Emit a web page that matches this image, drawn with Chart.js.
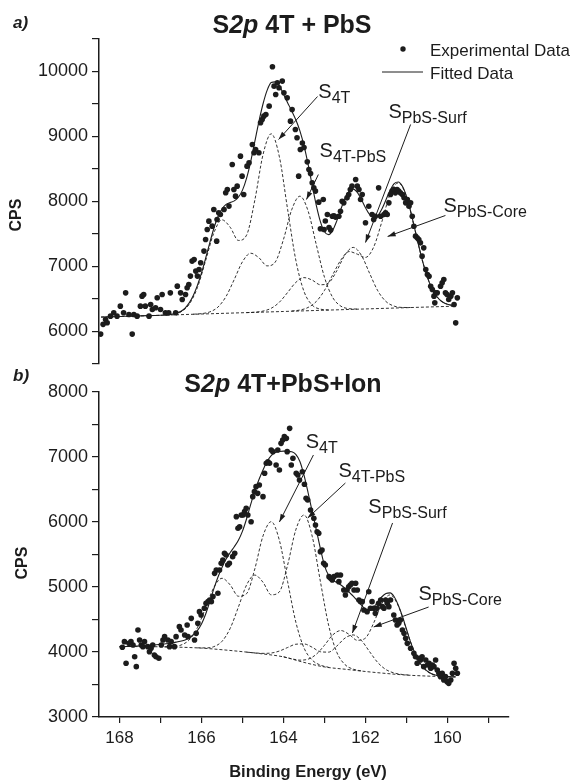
<!DOCTYPE html>
<html>
<head>
<meta charset="utf-8">
<script src="https://cdn.jsdelivr.net/npm/chart.js@4.4.1/dist/chart.umd.min.js"></script>
<style>
  body { margin: 0; background: #fff; }
  #wrap { position: relative; width: 586px; height: 780px; }
  #wrap canvas { position: absolute; left: 0; top: 0; }
</style>
</head>
<body>
<div id="wrap">
  <canvas id="panelA" width="586" height="780"></canvas>
  <canvas id="panelB" width="586" height="780"></canvas>
</div>
<script>
// ---- axis ticks ----
const xTicks = [159, 160, 161, 162, 163, 164, 165, 166, 167, 168];
const yTicksA = [5500, 6000, 6500, 7000, 7500, 8000, 8500, 9000, 9500, 10000, 10500];
const yTicksB = [3000, 3500, 4000, 4500, 5000, 5500, 6000, 6500, 7000, 7500, 8000];

// ---- panel a) S2p 4T + PbS  [binding energy eV, CPS] ----
const expA = [
  [168.46, 5960], [168.40, 6110], [168.34, 6185], [168.30, 6134], [168.22, 6236], [168.14, 6288], [168.06, 6236],
  [167.98, 6390], [167.90, 6288], [167.85, 6595], [167.77, 6262], [167.69, 5960], [167.65, 6262], [167.57, 6236],
  [167.49, 6390], [167.45, 6544], [167.41, 6570], [167.37, 6390], [167.28, 6236], [167.24, 6416], [167.20, 6339],
  [167.12, 6365], [167.08, 6519], [167.00, 6339], [166.96, 6570], [166.88, 6288], [166.80, 6288], [166.76, 6595],
  [166.63, 6288], [166.59, 6698], [166.51, 6595], [166.47, 6493], [166.39, 6570], [166.35, 6672], [166.31, 6723],
  [166.27, 6852], [166.23, 7083], [166.18, 7108], [166.14, 6929], [166.10, 6852], [166.06, 6955], [166.02, 7057],
  [165.94, 7237], [165.90, 7416], [165.86, 7569], [165.82, 7698], [165.74, 7621], [165.70, 7877], [165.63, 7390],
  [165.62, 7723], [165.58, 7826], [165.54, 7800], [165.45, 7877], [165.41, 8134], [165.37, 8185], [165.33, 7929],
  [165.25, 8570], [165.21, 8185], [165.17, 8082], [165.13, 8236], [165.05, 8698], [165.01, 8390], [164.97, 8108],
  [164.89, 8544], [164.84, 8595], [164.76, 8877], [164.72, 8749], [164.68, 8800], [164.60, 8749], [164.56, 9211],
  [164.52, 9262], [164.48, 9313], [164.43, 9339], [164.35, 9467], [164.27, 10072], [164.23, 9775], [164.19, 9647],
  [164.15, 9826], [164.11, 9749], [164.03, 9852], [163.99, 9672], [163.91, 9595], [163.83, 9236], [163.79, 9416],
  [163.71, 9108], [163.67, 8980], [163.63, 8390], [163.59, 8801], [163.54, 8900], [163.50, 8830], [163.42, 8610],
  [163.38, 8493], [163.34, 8430], [163.30, 8288], [163.26, 8210], [163.22, 8160], [163.14, 7990], [163.10, 7580],
  [163.03, 8031], [163.01, 7569], [162.98, 7700], [162.93, 7800], [162.89, 7600], [162.85, 7560], [162.81, 7774],
  [162.77, 7780], [162.73, 7760], [162.65, 7774], [162.61, 7851], [162.57, 8005], [162.53, 7979], [162.45, 8056],
  [162.41, 8108], [162.37, 8185], [162.33, 8236], [162.24, 8338], [162.20, 8236], [162.16, 8185], [162.12, 8031],
  [162.08, 8108], [162.00, 7672], [161.92, 7928], [161.84, 7800], [161.80, 7723], [161.76, 7774], [161.68, 8210],
  [161.63, 7774], [161.55, 7800], [161.51, 7826], [161.47, 7800], [161.43, 7979], [161.39, 8108], [161.35, 8159],
  [161.31, 8185], [161.27, 8133], [161.23, 8185], [161.19, 8159], [161.15, 8133], [161.10, 8108], [161.06, 8056],
  [161.02, 7979], [160.98, 8031], [160.94, 7928], [160.90, 7979], [160.86, 7774], [160.82, 7620], [160.78, 7467],
  [160.74, 7441], [160.70, 7415], [160.66, 7364], [160.62, 7159], [160.58, 7287], [160.53, 6954], [160.49, 6877],
  [160.45, 6851], [160.41, 6697], [160.37, 6646], [160.33, 6544], [160.31, 6441], [160.29, 6595], [160.25, 6595],
  [160.17, 6697], [160.13, 6749], [160.09, 6800], [160.05, 6595], [160.01, 6569], [159.97, 6492], [159.92, 6544],
  [159.88, 6595], [159.84, 6415], [159.80, 6133], [159.76, 6518]
];
const fitA = [
  [168.45, 6222], [168.0, 6231], [167.5, 6241], [167.0, 6250], [166.9, 6255], [166.8, 6260], [166.7, 6270],
  [166.6, 6285], [166.5, 6312], [166.4, 6360], [166.3, 6440], [166.2, 6555], [166.1, 6710], [166.0, 6900],
  [165.9, 7125], [165.8, 7360], [165.7, 7585], [165.6, 7765], [165.5, 7885], [165.4, 7955], [165.3, 7985],
  [165.2, 8010], [165.1, 8065], [165.0, 8175], [164.9, 8360], [164.8, 8615], [164.7, 8920], [164.6, 9230],
  [164.5, 9500], [164.4, 9710], [164.3, 9830], [164.2, 9840], [164.1, 9780], [164.0, 9650], [163.9, 9520],
  [163.8, 9393], [163.7, 9257], [163.6, 9087], [163.5, 8858], [163.4, 8571], [163.3, 8250], [163.2, 7942],
  [163.1, 7691], [163.0, 7534], [162.9, 7490], [162.8, 7556], [162.7, 7702], [162.6, 7882], [162.5, 8049],
  [162.4, 8159], [162.3, 8190], [162.2, 8140], [162.1, 8030], [162.0, 7905], [161.9, 7800], [161.8, 7755],
  [161.7, 7785], [161.6, 7885], [161.5, 8027], [161.4, 8172], [161.3, 8275], [161.2, 8300], [161.1, 8234],
  [161.0, 8078], [160.9, 7850], [160.8, 7583], [160.7, 7312], [160.6, 7062], [160.5, 6852], [160.4, 6689],
  [160.3, 6572], [160.2, 6494], [160.1, 6446], [160.0, 6418], [159.9, 6404], [159.8, 6397]
];
const baseA = [[168.45, 6221], [166.0, 6269], [164.0, 6308], [162.0, 6347], [159.8, 6390]];
const s4tA = [
  [166.9, 6253], [166.7, 6265], [166.5, 6303], [166.3, 6418], [166.1, 6675], [165.9, 7088], [165.7, 7515],
  [165.5, 7718], [165.3, 7604], [165.1, 7401], [164.9, 7483], [164.7, 8019], [164.5, 8720], [164.3, 9042],
  [164.1, 8686], [163.9, 7880], [163.7, 7099], [163.5, 6616], [163.3, 6406], [163.1, 6344], [162.9, 6332]
];
const s4tPbsA = [
  [166.2, 6266], [166.0, 6275], [165.8, 6301], [165.6, 6375], [165.4, 6540], [165.2, 6802], [165.0, 7074],
  [164.8, 7204], [164.6, 7135], [164.4, 7010], [164.2, 7069], [164.0, 7418], [163.8, 7873], [163.6, 8082],
  [163.4, 7854], [163.2, 7335], [163.0, 6833], [162.8, 6523], [162.6, 6390], [162.4, 6351], [162.2, 6345]
];
const surfA = [
  [164.9, 6291], [164.7, 6297], [164.5, 6314], [164.3, 6357], [164.1, 6451], [163.9, 6600], [163.7, 6755],
  [163.5, 6829], [163.3, 6791], [163.1, 6719], [162.9, 6747], [162.7, 6934], [162.5, 7180], [162.3, 7294],
  [162.1, 7172], [161.9, 6895], [161.7, 6626], [161.5, 6461], [161.3, 6390], [161.1, 6370], [160.9, 6369]
];
const coreA = [
  [163.8, 6315], [163.6, 6330], [163.4, 6370], [163.2, 6462], [163.0, 6633], [162.8, 6872], [162.6, 7101],
  [162.4, 7230], [162.2, 7190], [162.0, 7140], [161.8, 7300], [161.6, 7690], [161.4, 8115], [161.2, 8286],
  [161.0, 8075], [160.8, 7583], [160.6, 7062], [160.4, 6689], [160.2, 6494], [160.0, 6418], [159.8, 6397]
];

// ---- panel b) S2p 4T+PbS+Ion ----
const expB = [
  [167.93, 4072], [167.88, 4159], [167.84, 3826], [167.77, 4133], [167.72, 4159], [167.67, 4108], [167.63, 3928],
  [167.59, 3775], [167.55, 4339], [167.51, 4185], [167.47, 4108], [167.43, 4082], [167.39, 4159], [167.31, 4082],
  [167.27, 4005], [167.23, 4057], [167.19, 4108], [167.15, 3954], [167.11, 3928], [167.04, 3903], [166.98, 4108],
  [166.94, 4185], [166.90, 4236], [166.82, 4185], [166.78, 4082], [166.74, 4159], [166.66, 4082], [166.62, 4236],
  [166.54, 4390], [166.50, 4339], [166.41, 4262], [166.35, 4416], [166.33, 4236], [166.25, 4518], [166.17, 4185],
  [166.13, 4287], [166.09, 4441], [166.05, 4621], [166.01, 4570], [165.93, 4672], [165.89, 4749], [165.84, 4775],
  [165.80, 4800], [165.76, 4775], [165.72, 4852], [165.68, 5210], [165.64, 5262], [165.60, 4903], [165.56, 5262],
  [165.52, 5364], [165.48, 5416], [165.44, 5518], [165.40, 5492], [165.36, 5339], [165.32, 5364], [165.24, 5467],
  [165.19, 5518], [165.15, 6082], [165.11, 5903], [165.07, 5928], [165.03, 6108], [164.99, 6108], [164.95, 6159],
  [164.91, 6210], [164.87, 6108], [164.79, 6005], [164.75, 6390], [164.71, 6467], [164.67, 6544], [164.63, 6441],
  [164.59, 6569], [164.50, 6390], [164.46, 6749], [164.42, 6903], [164.38, 6928], [164.34, 6903], [164.30, 7108],
  [164.26, 7082], [164.18, 6877], [164.14, 7108], [164.10, 6800], [164.06, 7210], [164.02, 7262], [163.98, 7313],
  [163.93, 7287], [163.91, 7082], [163.85, 7441], [163.81, 6877], [163.77, 6980], [163.69, 6749], [163.65, 6723],
  [163.61, 6646], [163.54, 6774], [163.49, 6580], [163.45, 6364], [163.41, 6339], [163.34, 6185], [163.26, 6057],
  [163.22, 5954], [163.18, 5851], [163.14, 5826], [163.10, 5544], [163.06, 5570], [163.02, 5364], [162.98, 5339],
  [162.89, 5159], [162.85, 5133], [162.81, 5108], [162.77, 5159], [162.69, 5185], [162.65, 5082], [162.61, 5185],
  [162.53, 4954], [162.49, 4877], [162.45, 4954], [162.41, 5005], [162.37, 5031], [162.33, 5057], [162.28, 4954],
  [162.24, 5057], [162.20, 4954], [162.16, 4800], [162.12, 4775], [162.08, 4775], [162.04, 4646], [161.96, 4621],
  [161.92, 4928], [161.88, 4672], [161.84, 4775], [161.80, 4672], [161.76, 4595], [161.72, 4672], [161.68, 4749],
  [161.63, 4800], [161.59, 4698], [161.55, 4672], [161.51, 4800], [161.47, 4749], [161.43, 4698], [161.39, 4800],
  [161.31, 4570], [161.27, 4493], [161.23, 4416], [161.19, 4441], [161.15, 4493], [161.10, 4339], [161.06, 4287],
  [161.02, 4210], [160.98, 4133], [160.90, 4057], [160.82, 3980], [160.78, 3928], [160.74, 3826], [160.70, 3903],
  [160.66, 3877], [160.62, 3928], [160.58, 3775], [160.53, 3877], [160.49, 3800], [160.45, 3826], [160.41, 3749],
  [160.37, 3800], [160.33, 3775], [160.29, 3877], [160.25, 3723], [160.21, 3672], [160.17, 3621], [160.13, 3672],
  [160.09, 3570], [160.05, 3621], [160.01, 3544], [159.97, 3518], [159.92, 3570], [159.88, 3672], [159.84, 3826],
  [159.80, 3749], [159.76, 3672]
];
const fitB = [
  [168.0, 4082], [167.6, 4090], [167.2, 4105], [166.8, 4130], [166.6, 4155], [166.4, 4185], [166.3, 4215],
  [166.2, 4265], [166.1, 4330], [166.0, 4430], [165.9, 4580], [165.8, 4770], [165.7, 4970], [165.6, 5150],
  [165.5, 5300], [165.4, 5430], [165.3, 5530], [165.2, 5620], [165.1, 5720], [165.0, 5860], [164.9, 6050],
  [164.8, 6270], [164.7, 6480], [164.6, 6650], [164.5, 6800], [164.4, 6930], [164.3, 7020], [164.2, 7070],
  [164.1, 7085], [164.0, 7090], [163.9, 7088], [163.8, 7080], [163.7, 7040], [163.6, 6930], [163.5, 6720],
  [163.4, 6450], [163.3, 6160], [163.2, 5880], [163.1, 5590], [163.0, 5330], [162.9, 5180], [162.8, 5110],
  [162.7, 5070], [162.6, 5030], [162.5, 4980], [162.4, 4920], [162.3, 4860], [162.2, 4790], [162.1, 4720],
  [162.0, 4660], [161.9, 4650], [161.8, 4690], [161.7, 4770], [161.6, 4850], [161.5, 4900], [161.4, 4910],
  [161.3, 4850], [161.2, 4720], [161.1, 4550], [161.0, 4350], [160.9, 4150], [160.8, 3990], [160.7, 3860],
  [160.6, 3770], [160.5, 3710], [160.4, 3670], [160.3, 3645], [160.2, 3632], [160.0, 3621], [159.8, 3617]
];
const baseB = [
  [168.0, 4085], [167.0, 4080], [166.5, 4073], [166.0, 4060], [165.5, 4035], [165.0, 4005], [164.5, 3970],
  [164.0, 3925], [163.5, 3840], [163.0, 3770], [162.5, 3735], [162.0, 3700], [161.5, 3670], [161.0, 3645],
  [160.5, 3630], [160.0, 3620], [159.8, 3618]
];
const s4tB = [
  [166.9, 4080], [166.7, 4083], [166.5, 4107], [166.3, 4186], [166.1, 4375], [165.9, 4679], [165.7, 4992],
  [165.5, 5134], [165.3, 5032], [165.1, 4858], [164.9, 4898], [164.7, 5278], [164.5, 5785], [164.3, 6005],
  [164.1, 5717], [163.9, 5084], [163.7, 4462], [163.5, 4063], [163.3, 3876], [163.1, 3798], [162.9, 3765]
];
const s4tPbsB = [
  [166.1, 4064], [165.9, 4063], [165.7, 4082], [165.5, 4164], [165.3, 4364], [165.1, 4692], [164.9, 5032],
  [164.7, 5184], [164.5, 5073], [164.3, 4880], [164.1, 4926], [163.9, 5337], [163.7, 5879], [163.5, 6108],
  [163.3, 5781], [163.1, 5084], [162.9, 4413], [162.7, 3995], [162.5, 3806], [162.3, 3736], [162.1, 3709]
];
const surfB = [
  [164.9, 3998], [164.7, 3986], [164.5, 3979], [164.3, 3984], [164.1, 4015], [163.9, 4069], [163.7, 4119],
  [163.5, 4124], [163.3, 4073], [163.1, 4004], [162.9, 3998], [162.7, 4091], [162.5, 4214], [162.3, 4263],
  [162.1, 4177], [161.9, 4005], [161.7, 3837], [161.5, 3729], [161.3, 3677], [161.1, 3654], [160.9, 3643]
];
const coreB = [
  [164.0, 3926], [163.8, 3895], [163.6, 3875], [163.4, 3889], [163.2, 3965], [163.0, 4104], [162.8, 4262],
  [162.6, 4330], [162.4, 4271], [162.2, 4180], [162.0, 4215], [161.8, 4447], [161.6, 4748], [161.4, 4879],
  [161.2, 4710], [161.0, 4341], [160.8, 3987], [160.6, 3765], [160.4, 3666], [160.2, 3632], [160.0, 3621]
];

// ---- drawing ----
const INK = '#1c1c1c';
const FONT = "'Liberation Sans', Arial, Helvetica, sans-serif";
const pts = arr => arr.map(([x, y]) => ({ x, y }));

function richText(ctx, parts, cx, y) {
  let w = 0;
  parts.forEach(([t, f]) => { ctx.font = f; w += ctx.measureText(t).width; });
  let x = cx - w / 2;
  ctx.textAlign = 'left';
  ctx.textBaseline = 'alphabetic';
  parts.forEach(([t, f]) => { ctx.font = f; ctx.fillText(t, x, y); x += ctx.measureText(t).width; });
}

function arrow(ctx, x1, y1, x2, y2) {
  ctx.beginPath();
  ctx.moveTo(x1, y1);
  ctx.lineTo(x2, y2);
  ctx.stroke();
  const a = Math.atan2(y2 - y1, x2 - x1), L = 8, W = 2.6;
  const bx = x2 - L * Math.cos(a), by = y2 - L * Math.sin(a);
  ctx.beginPath();
  ctx.moveTo(x2, y2);
  ctx.lineTo(bx + W * Math.sin(a), by - W * Math.cos(a));
  ctx.lineTo(bx - W * Math.sin(a), by + W * Math.cos(a));
  ctx.closePath();
  ctx.fill();
}

function decor(cfg) {
  return {
    id: 'decor',
    afterDraw(chart) {
      const { ctx } = chart;
      const sx = chart.scales.x, sy = chart.scales.y;
      ctx.save();
      ctx.fillStyle = INK;
      ctx.strokeStyle = INK;
      ctx.lineWidth = 1;

      ctx.font = `italic bold 17px ${FONT}`;
      ctx.textAlign = 'left';
      ctx.textBaseline = 'alphabetic';
      ctx.fillText(cfg.letter, 13, cfg.letterY);

      richText(ctx, cfg.title, cfg.titleX, cfg.titleY);

      ctx.save();
      ctx.translate(cfg.cpsX, cfg.cpsY);
      ctx.rotate(-Math.PI / 2);
      ctx.font = `bold 16px ${FONT}`;
      ctx.textAlign = 'center';
      ctx.textBaseline = 'middle';
      ctx.fillText('CPS', 0, 0);
      ctx.restore();

      cfg.notes.forEach(n => {
        const lx = sx.getPixelForValue(n.at[0]), ly = sy.getPixelForValue(n.at[1]);
        ctx.font = `20px ${FONT}`;
        ctx.textAlign = 'left';
        ctx.textBaseline = 'alphabetic';
        ctx.fillText('S', lx, ly);
        const w = ctx.measureText('S').width;
        ctx.font = `16px ${FONT}`;
        ctx.fillText(n.sub, lx + w, ly + 5);
        arrow(ctx, sx.getPixelForValue(n.from[0]), sy.getPixelForValue(n.from[1]),
                   sx.getPixelForValue(n.to[0]), sy.getPixelForValue(n.to[1]));
      });

      if (cfg.legend) {
        ctx.beginPath();
        ctx.arc(403, 49, 2.7, 0, Math.PI * 2);
        ctx.fill();
        ctx.beginPath();
        ctx.moveTo(382, 72);
        ctx.lineTo(423, 72);
        ctx.stroke();
        ctx.font = `17px ${FONT}`;
        ctx.textAlign = 'left';
        ctx.fillText('Experimental Data', 430, 56);
        ctx.fillText('Fitted Data', 430, 79);
      }

      if (cfg.xTitle) {
        ctx.font = `bold 16.5px ${FONT}`;
        ctx.textAlign = 'center';
        ctx.fillText('Binding Energy (eV)', 308, 777);
      }
      ctx.restore();
    }
  };
}

function curve(data, dashed) {
  return {
    data: pts(data),
    showLine: true,
    borderColor: INK,
    borderWidth: dashed ? 0.9 : 1.1,
    borderDash: dashed ? [3, 2] : [],
    pointRadius: 0,
    cubicInterpolationMode: 'monotone'
  };
}

function panel(id, p) {
  return new Chart(document.getElementById(id), {
    type: 'scatter',
    data: {
      datasets: [
        { data: pts(p.exp), pointRadius: 2.8, pointBackgroundColor: INK, pointBorderWidth: 0 },
        curve(p.fit, false),
        curve(p.base, true),
        ...p.comps.map(c => curve(c, true))
      ]
    },
    options: {
      responsive: false,
      animation: false,
      events: [],
      layout: { padding: p.padding },
      plugins: { legend: { display: false }, tooltip: { enabled: false } },
      scales: {
        x: {
          type: 'linear',
          reverse: true,
          min: 158.5,
          max: 168.5,
          display: p.showX,
          afterBuildTicks: s => { s.ticks = xTicks.map(v => ({ value: v })); },
          afterFit: s => { s.height = p.showX ? 63 : 0; },
          grid: { display: true, drawOnChartArea: false, tickLength: 6, color: INK, lineWidth: 1.2 },
          border: { display: true, color: INK, width: 1.5 },
          ticks: {
            color: INK, font: { family: FONT, size: 17 }, padding: 5,
            autoSkip: false, maxRotation: 0,
            callback: v => (v % 2 === 0 ? String(v) : '')
          }
        },
        y: {
          type: 'linear',
          min: p.yTicks[0],
          max: p.yTicks[p.yTicks.length - 1],
          afterBuildTicks: s => { s.ticks = p.yTicks.map(v => ({ value: v })); },
          afterFit: s => { s.width = 99; },
          grid: { display: true, drawOnChartArea: false, tickLength: 7, color: INK, lineWidth: 1.2 },
          border: { display: true, color: INK, width: 1.5 },
          ticks: {
            color: INK, font: { family: FONT, size: 18 }, padding: 4, autoSkip: false,
            callback: v => (p.labelled.includes(v) ? String(v) : '')
          }
        }
      }
    },
    plugins: [decor(p.decor)]
  });
}

panel('panelA', {
  exp: expA, fit: fitA, base: baseA, comps: [s4tA, s4tPbsA, surfA, coreA],
  yTicks: yTicksA, labelled: [6000, 7000, 8000, 9000, 10000],
  showX: false,
  padding: { left: 0, right: 77, top: 39, bottom: 416 },
  decor: {
    letter: 'a)', letterY: 28,
    title: [['S', `bold 25px ${FONT}`], ['2p', `italic bold 25px ${FONT}`], [' 4T + PbS', `bold 25px ${FONT}`]],
    titleX: 292, titleY: 33,
    cpsX: 17, cpsY: 215,
    legend: true, xTitle: false,
    notes: [
      { sub: '4T', at: [163.15, 9600], from: [163.17, 9615], to: [164.12, 8954] },
      { sub: '4T-PbS', at: [163.12, 8677], from: [163.15, 8415], to: [163.44, 8031] },
      { sub: 'PbS-Surf', at: [161.44, 9292], from: [160.90, 9185], to: [162.00, 7369] },
      { sub: 'PbS-Core', at: [160.10, 7846], from: [160.05, 7785], to: [161.46, 7462] }
    ]
  }
});

panel('panelB', {
  exp: expB, fit: fitB, base: baseB, comps: [s4tB, s4tPbsB, surfB, coreB],
  yTicks: yTicksB, labelled: [3000, 4000, 5000, 6000, 7000, 8000],
  showX: true,
  padding: { left: 0, right: 77, top: 392, bottom: 0 },
  decor: {
    letter: 'b)', letterY: 381,
    title: [['S', `bold 25px ${FONT}`], ['2p', `italic bold 25px ${FONT}`], [' 4T+PbS+Ion', `bold 25px ${FONT}`]],
    titleX: 283, titleY: 392,
    cpsX: 23, cpsY: 563,
    legend: false, xTitle: true,
    notes: [
      { sub: '4T', at: [163.46, 7138], from: [163.27, 7031], to: [164.10, 6000] },
      { sub: '4T-PbS', at: [162.66, 6692], from: [162.49, 6600], to: [163.41, 6062] },
      { sub: 'PbS-Surf', at: [161.93, 6138], from: [161.34, 5985], to: [162.32, 4292] },
      { sub: 'PbS-Core', at: [160.71, 4800], from: [160.46, 4692], to: [161.80, 4385] }
    ]
  }
});
</script>
</body>
</html>
